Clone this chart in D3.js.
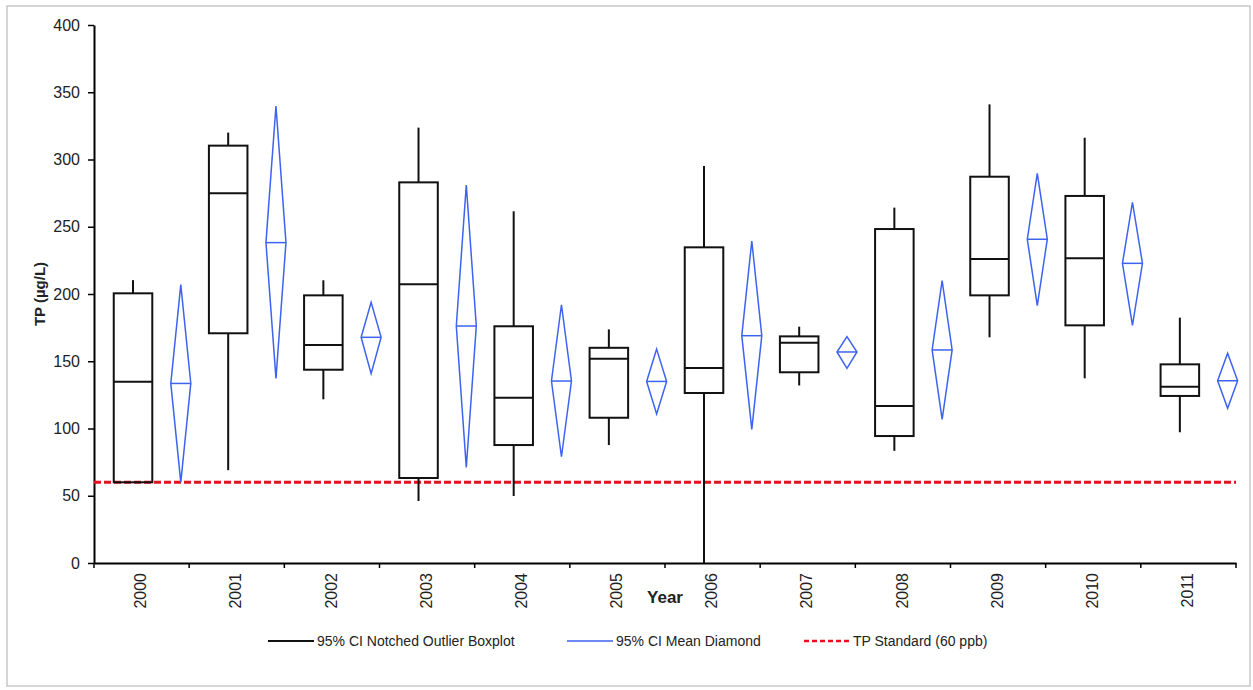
<!DOCTYPE html>
<html>
<head>
<meta charset="utf-8">
<script src="https://cdn.jsdelivr.net/npm/d3@7"></script>
<style>
  body { margin: 0; background: #fff; }
  svg text { font-family: "Liberation Sans", Arial, sans-serif; }
</style>
</head>
<body>
<div id="graph"></div>
<script>
// données
var years = ["2000","2001","2002","2003","2004","2005","2006","2007","2008","2009","2010","2011"];
var boxQ1 = [60, 170.8, 143.7, 63.2, 87.7, 108, 126.4, 141.8, 94.4, 199, 176.7, 124.2];
var boxMedian = [134.8, 274.9, 162.1, 207.2, 122.9, 151.9, 145, 163.8, 116.7, 226, 226.5, 131.1];
var boxQ3 = [200.5, 310.3, 199, 283, 176, 160, 234.7, 168.5, 248.3, 287.2, 272.9, 147.7];
var whiskerLow = [60, 69, 121.7, 46.1, 49.8, 87.7, 0, 132, 83.4, 167.8, 137.3, 97.2];
var whiskerHigh = [210.3, 320, 210.2, 323.7, 261.5, 173.7, 295.2, 175.7, 264.2, 341, 316.2, 182.4];
var meanValues = [133.5, 238.2, 167.8, 176.2, 135.3, 135, 169, 156.9, 158.4, 240.7, 222.8, 135.5];
var ciLow = [60, 137.3, 140.8, 71.1, 79, 110.8, 99.4, 144.7, 106.8, 191.3, 176.7, 115];
var ciHigh = [207, 339.8, 193.8, 281, 192, 159, 239.4, 168.3, 209.9, 289.7, 268.2, 155.9];
var yTicks = [0, 50, 100, 150, 200, 250, 300, 350, 400];
var tpStandard = 60;
var legendLabels = ["95% CI Notched Outlier Boxplot", "95% CI Mean Diamond", "TP Standard (60 ppb)"];

var W = 1253, H = 690;
var margin = {top: 25, right: 17, bottom: 127, left: 94};
var width = W - margin.left - margin.right,
    height = H - margin.top - margin.bottom;

var blue = "#3d63f0", red = "#e3121c";

var svg = d3.select("#graph").append("svg")
    .attr("width", W).attr("height", H);

// cadre gris autour du graphique
svg.append("rect")
    .attr("x", 7).attr("y", 6).attr("width", 1243).attr("height", 680)
    .attr("fill", "none").attr("stroke", "#c8c8c8").attr("stroke-width", 1.5);

var g = svg.append("g").attr("transform", "translate(" + margin.left + "," + margin.top + ")");

var x = d3.scaleBand().domain(years).range([0, width]).padding(0);
var y = d3.scaleLinear().domain([0, 400]).range([height, 0]);
var bw = x.bandwidth();

var rows = years.map(function(d, i) {
  return {year: d, q1: boxQ1[i], med: boxMedian[i], q3: boxQ3[i], lo: whiskerLow[i], hi: whiskerHigh[i],
          mean: meanValues[i], cl: ciLow[i], ch: ciHigh[i]};
});

// axe Y
var yAxis = g.append("g")
    .call(d3.axisLeft(y).tickValues(yTicks).tickSize(6).tickPadding(8).tickSizeOuter(0));
yAxis.select(".domain").attr("stroke", "#000").attr("stroke-width", 2);
yAxis.selectAll(".tick line").attr("stroke", "#000").attr("stroke-width", 1.5);
yAxis.selectAll("text").attr("font-size", 16).attr("fill", "#222");

// axe X
var xAxis = g.append("g")
    .attr("transform", "translate(0," + height + ")")
    .call(d3.axisBottom(x).tickSize(0).tickSizeOuter(0));
xAxis.select(".domain").attr("stroke", "#000").attr("stroke-width", 2);
xAxis.selectAll("text")
    .attr("font-size", 16).attr("fill", "#222")
    .attr("transform", "rotate(-90)")
    .attr("text-anchor", "end")
    .attr("x", -10).attr("y", -1).attr("dy", "0.35em");

// graduations aux limites des années
var bounds = years.map(function(d) { return x(d); }).concat([width]);
g.selectAll(".xtick").data(bounds).enter().append("line")
    .attr("x1", function(d) { return d; }).attr("x2", function(d) { return d; })
    .attr("y1", height).attr("y2", height + 5)
    .attr("stroke", "#000").attr("stroke-width", 1.5);

// ligne du standard TP
g.append("line")
    .attr("x1", 0).attr("x2", width)
    .attr("y1", y(tpStandard)).attr("y2", y(tpStandard))
    .attr("stroke", red).attr("stroke-width", 3).attr("stroke-dasharray", "7,3");

// boîtes à moustaches
var boxW = bw * 0.405;
var box = g.selectAll(".box").data(rows).enter().append("g")
    .attr("transform", function(d) { return "translate(" + (x(d.year) + bw * 0.41) + ",0)"; });
box.append("line")
    .attr("y1", function(d) { return y(d.hi); }).attr("y2", function(d) { return y(d.q3); })
    .attr("stroke", "#111").attr("stroke-width", 2);
box.append("line")
    .attr("y1", function(d) { return y(d.q1); }).attr("y2", function(d) { return y(d.lo); })
    .attr("stroke", "#111").attr("stroke-width", 2);
box.append("rect")
    .attr("x", -boxW / 2).attr("width", boxW)
    .attr("y", function(d) { return y(d.q3); })
    .attr("height", function(d) { return y(d.q1) - y(d.q3); })
    .attr("fill", "none").attr("stroke", "#111").attr("stroke-width", 2);
box.append("line")
    .attr("x1", -boxW / 2).attr("x2", boxW / 2)
    .attr("y1", function(d) { return y(d.med); }).attr("y2", function(d) { return y(d.med); })
    .attr("stroke", "#111").attr("stroke-width", 2);

// diamants de la moyenne
var dw = 10;
var dia = g.selectAll(".dia").data(rows).enter().append("g")
    .attr("transform", function(d) { return "translate(" + (x(d.year) + bw * 0.912) + ",0)"; });
dia.append("path")
    .attr("d", function(d) {
      return "M0," + y(d.ch) + "L" + dw + "," + y(d.mean) + "L0," + y(d.cl) + "L" + (-dw) + "," + y(d.mean) + "Z";
    })
    .attr("fill", "none").attr("stroke", blue).attr("stroke-width", 1.5);
dia.append("line")
    .attr("x1", -dw).attr("x2", dw)
    .attr("y1", function(d) { return y(d.mean); }).attr("y2", function(d) { return y(d.mean); })
    .attr("stroke", blue).attr("stroke-width", 1.5);

// titres des axes
svg.append("text")
    .attr("transform", "translate(45," + (margin.top + height / 2) + ") rotate(-90)")
    .attr("text-anchor", "middle")
    .attr("font-size", 15).attr("font-weight", "bold").attr("fill", "#222")
    .text("TP (µg/L)");
svg.append("text")
    .attr("x", 665).attr("y", 603)
    .attr("text-anchor", "middle")
    .attr("font-size", 17).attr("font-weight", "bold").attr("fill", "#222")
    .text("Year");

// légende
var legItems = [
  {x: 268, label: legendLabels[0], color: "#111", dash: null, sw: 2},
  {x: 567, label: legendLabels[1], color: blue, dash: null, sw: 1.5},
  {x: 804, label: legendLabels[2], color: red, dash: "5,3", sw: 2.5}
];
var leg = svg.selectAll(".leg").data(legItems).enter().append("g")
    .attr("transform", function(d) { return "translate(" + d.x + ",641)"; });
leg.append("line")
    .attr("x1", 0).attr("x2", 46).attr("y1", 0).attr("y2", 0)
    .attr("stroke", function(d) { return d.color; })
    .attr("stroke-width", function(d) { return d.sw; })
    .attr("stroke-dasharray", function(d) { return d.dash; });
leg.append("text")
    .attr("x", 49).attr("dy", "0.35em")
    .attr("font-size", 14).attr("fill", "#222")
    .text(function(d) { return d.label; });
</script>
</body>
</html>
